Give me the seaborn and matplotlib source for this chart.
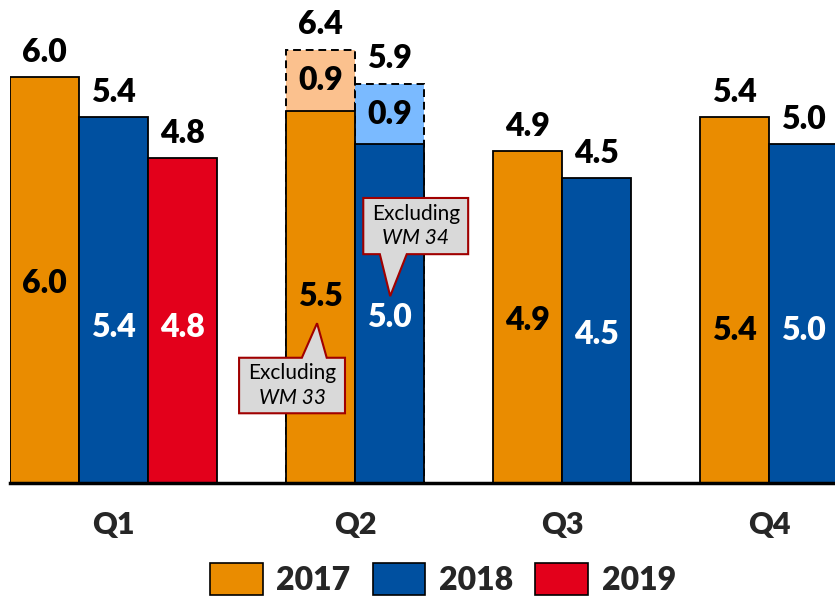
import pandas as pd
import matplotlib.pyplot as plt
from matplotlib.patches import Patch, Polygon
import seaborn as sns

sns.set_theme(style="white")
plt.rcParams['font.family'] = ['Lato', 'DejaVu Sans']

# 数据
quarters = ['Q1', 'Q2', 'Q3', 'Q4']
years = ['2017', '2018', '2019']
bar_quarter = ['Q1', 'Q1', 'Q1', 'Q2', 'Q2', 'Q3', 'Q3', 'Q4', 'Q4']
bar_year = ['2017', '2018', '2019', '2017', '2018', '2017', '2018', '2017', '2018']
bar_value = [6.0, 5.4, 4.8, 5.5, 5.0, 4.9, 4.5, 5.4, 5.0]
# Q2 含 WM 33 / WM 34 的额外部分
extra_year = ['2017', '2018']
extra_value = [0.9, 0.9]
# 柱内标签的高度（原图手工摆放）
inner_label_y = [2.95, 2.3, 2.3, 2.75, 2.45, 2.4, 2.2, 2.25, 2.25]

colors = {'2017': '#EA8C00', '2018': '#0050A0', '2019': '#E3001B'}
light = {'2017': '#FBC18E', '2018': '#7ABAFF'}
inner_text_color = {'2017': 'black', '2018': 'white', '2019': 'white'}

# 槽位: 每个季度之间空一格
slot_of = {}
s = 0
for q in quarters:
    for y in years:
        if (q, y) in zip(bar_quarter, bar_year):
            slot_of[(q, y)] = s
            s += 1
    s += 1

df = pd.DataFrame({'quarter': bar_quarter, 'year': bar_year, 'value': bar_value})
df['slot'] = [slot_of[(q, y)] for q, y in zip(bar_quarter, bar_year)]

q2 = df[df['quarter'] == 'Q2'].reset_index(drop=True)
df_extra = pd.DataFrame({'year': extra_year,
                         'slot': q2['slot'],
                         'total': q2['value'] + extra_value})

fig = plt.figure(figsize=(8.35, 6), dpi=100)
ax = fig.add_axes([10 / 835, 117 / 600, 825 / 835, 483 / 600])

# 先画 Q2 总高度（浅色 + 虚线），再覆盖基础柱
sns.barplot(data=df_extra, x='slot', y='total', hue='year', palette=light,
            saturation=1, native_scale=True, width=1, dodge=False,
            edgecolor='black', linewidth=1.4, linestyle=(0, (4, 2.5)),
            legend=False, ax=ax)
sns.barplot(data=df, x='slot', y='value', hue='year', palette=colors,
            saturation=1, native_scale=True, width=1, dodge=False,
            edgecolor='black', linewidth=1.3, legend=False, ax=ax)

label_font = dict(fontsize=23, fontweight=800)

# 顶部标签
for _, r in df.iterrows():
    top = r['value']
    if r['quarter'] == 'Q2':
        top = df_extra.loc[df_extra['year'] == r['year'], 'total'].iloc[0]
    ax.annotate(f"{top:.1f}", (r['slot'], top), xytext=(0, 11),
                textcoords='offset points', ha='center', va='baseline',
                color='black', **label_font)

# 柱内标签
for (_, r), ly in zip(df.iterrows(), inner_label_y):
    ax.text(r['slot'], ly, f"{r['value']:.1f}", ha='center', va='center',
            color=inner_text_color[r['year']], **label_font)

# 额外部分标签
for _, r in df_extra.iterrows():
    ev = extra_value[extra_year.index(r['year'])]
    ax.text(r['slot'], r['total'] - ev / 2, f"{ev:.1f}",
            ha='center', va='center', color='black', **label_font)


def callout(x0, x1, y0, y1, bx0, bx1, tip, up, line2):
    if up:
        pts = [(x0, y0), (x1, y0), (x1, y1), (bx1, y1), tip, (bx0, y1), (x0, y1)]
    else:
        pts = [(x0, y1), (x1, y1), (x1, y0), (bx1, y0), tip, (bx0, y0), (x0, y0)]
    ax.add_patch(Polygon(pts, closed=True, facecolor='#D9D9D9',
                         edgecolor='#A00000', linewidth=1.5, zorder=5))
    cx = (x0 + x1) / 2
    h = y1 - y0
    ax.text(cx, y0 + h * 0.72, 'Excluding', ha='center', va='center',
            fontsize=15, color='black', zorder=6)
    ax.text(cx, y0 + h * 0.28, line2, ha='center', va='center',
            fontsize=15, style='italic', color='black', zorder=6)


callout(2.82, 4.355, 1.03, 1.85, 3.73, 4.09, (3.95, 2.36), True, 'WM 33')
callout(4.62, 6.14, 3.38, 4.21, 4.86, 5.25, (5.01, 2.76), False, 'WM 34')

ax.set_xlim(-0.5, -0.5 + 825 / 69)
ax.set_ylim(0, 483 / 67.7)
ax.set_xticks([1, 4.5, 7.5, 10.5])
ax.set_xticklabels(quarters, fontsize=22, fontweight=800)
ax.tick_params(axis='x', length=0, pad=20)
ax.set_yticks([])
ax.set_xlabel('')
ax.set_ylabel('')
for side in ['top', 'right', 'left']:
    ax.spines[side].set_visible(False)
ax.spines['bottom'].set_linewidth(2.5)
ax.spines['bottom'].set_color('black')

handles = [Patch(facecolor=colors[y], edgecolor='black', linewidth=1.2) for y in years]
fig.legend(handles, years, loc='center', bbox_to_anchor=(443 / 835, 1 - 579 / 600),
           ncol=3, frameon=False, handlelength=1.65, handleheight=1.2,
           handletextpad=0.42, columnspacing=0.7,
           prop={'size': 23, 'weight': 800})

fig.savefig('out.png', dpi=100)
